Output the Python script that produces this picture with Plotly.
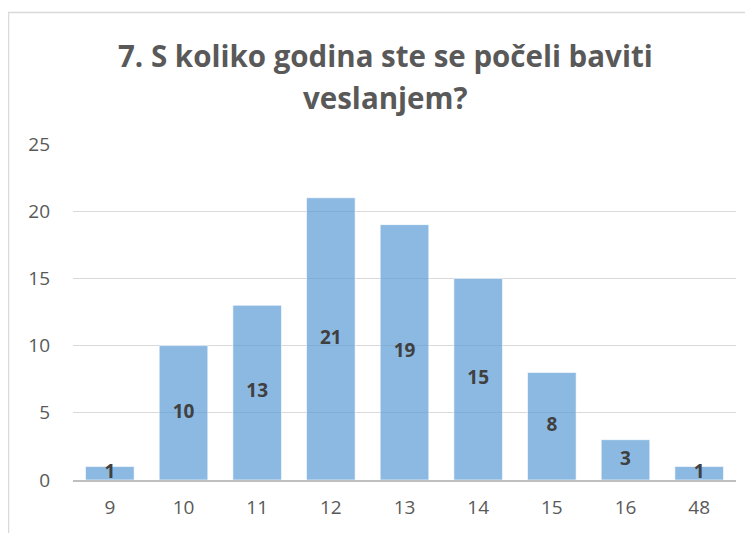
import plotly.graph_objects as go

categories = ["9", "10", "11", "12", "13", "14", "15", "16", "48"]
values = [1, 10, 13, 21, 19, 15, 8, 3, 1]
y_ticks = [0, 5, 10, 15, 20, 25]
title_lines = ["7. S koliko godina ste se počeli baviti", "veslanjem?"]

OFF = 8  # page body margin
W, H = 753 - OFF, 533 - OFF
L, R, T, B = 73 - OFF, 17, 144 - OFF, 53
pw, ph = W - L - R, H - T - B

def px_x(p):
    return (p - OFF - L) / pw

def px_y(p):
    return (H - B - (p - OFF)) / ph

FONT = "Open Sans, Carlito, sans-serif"

fig = go.Figure()
fig.add_trace(go.Bar(
    x=categories, y=values,
    marker=dict(color="rgba(91,155,213,0.70)", line=dict(color="rgba(255,255,255,0.6)", width=1)),
    hoverinfo="x+y",
))
fig.add_trace(go.Scatter(
    x=categories, y=[v / 2 for v in values],
    mode="text", text=[str(v) for v in values],
    textfont=dict(family=FONT, size=19, color="#404040", weight="bold"),
    hoverinfo="skip",
))

title_font = dict(family=FONT, size=29.5, color="#595959", weight="bold")
fig.add_annotation(text=title_lines[0], x=px_x(385), y=px_y(55), xref="paper", yref="paper",
                   showarrow=False, font=title_font, xanchor="center", yanchor="middle")
fig.add_annotation(text=title_lines[1], x=px_x(385), y=px_y(97), xref="paper", yref="paper",
                   showarrow=False, font=title_font, xanchor="center", yanchor="middle")

# chart border (top and left visible)
fig.add_shape(type="line", xref="paper", yref="paper", x0=px_x(8), x1=px_x(770), y0=px_y(12.5), y1=px_y(12.5),
              line=dict(color="#D9D9D9", width=1.5))
fig.add_shape(type="line", xref="paper", yref="paper", x0=px_x(8.5), x1=px_x(8.5), y0=px_y(12.5), y1=px_y(560),
              line=dict(color="#D9D9D9", width=1.5))

fig.update_layout(
    width=W, height=H,
    margin=dict(l=L, r=R, t=T, b=B),
    paper_bgcolor="white", plot_bgcolor="white",
    showlegend=False,
    bargap=0.34,
    font=dict(family=FONT, size=19, color="#595959"),
    xaxis=dict(type="category", showgrid=False, showline=True, linecolor="#BFBFBF", linewidth=1.5,
               ticks="", tickfont=dict(size=19, color="#595959"), ticklabelstandoff=9, fixedrange=True),
    yaxis=dict(range=[0, 25], tickvals=y_ticks, showgrid=True, gridcolor="#D9D9D9", gridwidth=1.2,
               zeroline=False, showline=False, ticks="", tickfont=dict(size=19, color="#595959"),
               ticklabelstandoff=22, fixedrange=True),
)

fig.write_html("out.html")
